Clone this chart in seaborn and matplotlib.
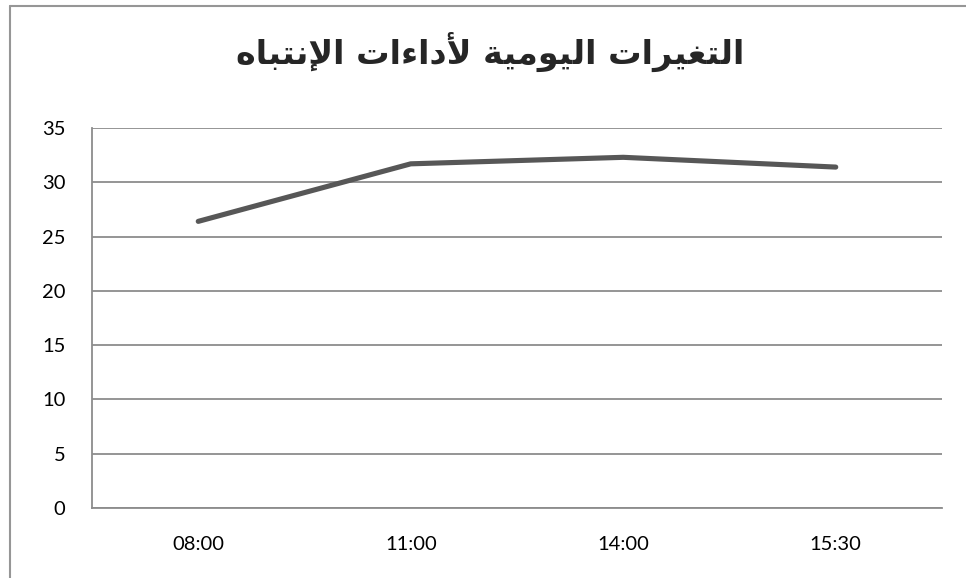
import matplotlib
matplotlib.use("Agg")
import matplotlib.pyplot as plt
import pandas as pd
import seaborn as sns
from matplotlib.lines import Line2D

# data
times = ["08:00", "11:00", "14:00", "15:30"]
scores = [26.4, 31.7, 32.3, 31.4]
y_ticks = [0, 5, 10, 15, 20, 25, 30, 35]
title = "التغيرات اليومية لأداءات الإنتباه"

# minimal Arabic shaping (isolated, final, initial, medial)
FORMS = {
    "ء": ("\uFE80", None, None, None),
    "أ": ("\uFE83", "\uFE84", None, None),
    "إ": ("\uFE87", "\uFE88", None, None),
    "ا": ("\uFE8D", "\uFE8E", None, None),
    "ب": ("\uFE8F", "\uFE90", "\uFE91", "\uFE92"),
    "ة": ("\uFE93", "\uFE94", None, None),
    "ت": ("\uFE95", "\uFE96", "\uFE97", "\uFE98"),
    "د": ("\uFEA9", "\uFEAA", None, None),
    "ر": ("\uFEAD", "\uFEAE", None, None),
    "غ": ("\uFECD", "\uFECE", "\uFECF", "\uFED0"),
    "ل": ("\uFEDD", "\uFEDE", "\uFEDF", "\uFEE0"),
    "م": ("\uFEE1", "\uFEE2", "\uFEE3", "\uFEE4"),
    "ن": ("\uFEE5", "\uFEE6", "\uFEE7", "\uFEE8"),
    "ه": ("\uFEE9", "\uFEEA", "\uFEEB", "\uFEEC"),
    "و": ("\uFEED", "\uFEEE", None, None),
    "ي": ("\uFEF1", "\uFEF2", "\uFEF3", "\uFEF4"),
}
LAM_ALEF = {"أ": ("\uFEF7", "\uFEF8"), "إ": ("\uFEF9", "\uFEFA"), "ا": ("\uFEFB", "\uFEFC")}


def shape_arabic(text):
    chars = list(text)
    # merge lam + alef into one unit
    units = []
    i = 0
    while i < len(chars):
        if chars[i] == "ل" and i + 1 < len(chars) and chars[i + 1] in LAM_ALEF:
            units.append(("LA", chars[i + 1]))
            i += 2
        else:
            units.append(("C", chars[i]))
            i += 1

    def joins_next(u):
        if u[0] == "LA":
            return False
        f = FORMS.get(u[1])
        return f is not None and f[2] is not None

    def joins_prev(u):
        if u[0] == "LA":
            return True
        f = FORMS.get(u[1])
        return f is not None and f[1] is not None

    out = []
    for k, u in enumerate(units):
        prev_j = k > 0 and joins_next(units[k - 1]) and joins_prev(u)
        nxt = units[k + 1] if k + 1 < len(units) else None
        next_j = nxt is not None and joins_next(u) and joins_prev(nxt)
        if u[0] == "LA":
            iso, fin = LAM_ALEF[u[1]]
            out.append(fin if prev_j else iso)
            continue
        f = FORMS.get(u[1])
        if f is None:
            out.append(u[1])
            continue
        if prev_j and next_j:
            out.append(f[3])
        elif prev_j:
            out.append(f[1])
        elif next_j:
            out.append(f[2])
        else:
            out.append(f[0])
    return "".join(reversed(out))


df = pd.DataFrame({"time": times, "score": scores})

sns.set_theme(style="white")
plt.rcParams["font.family"] = ["Lato", "DejaVu Sans"]

fig = plt.figure(figsize=(9.66, 5.78), dpi=100)
ax = fig.add_axes([92 / 966, 1 - 508 / 578, 850 / 966, 380 / 578])

sns.lineplot(data=df, x="time", y="score", sort=False, ax=ax,
             color="#575757", linewidth=3.7, solid_capstyle="round")

ax.set_xlim(-0.5, len(times) - 0.5)
ax.set_ylim(0, 35)
ax.set_yticks(y_ticks)
ax.yaxis.grid(True, color="#8c8c8c", linewidth=1.3)
ax.xaxis.grid(False)
for side in ["top", "right"]:
    ax.spines[side].set_visible(False)
ax.spines["left"].set_color("#8c8c8c")
ax.spines["bottom"].set_color("#8c8c8c")
ax.spines["left"].set_linewidth(1.3)
ax.spines["bottom"].set_linewidth(1.3)
ax.tick_params(axis="both", length=0, labelsize=14.5, colors="black")
ax.tick_params(axis="y", pad=19)
ax.tick_params(axis="x", pad=20)
ax.set_xlabel("")
ax.set_ylabel("")

fig.text(490 / 966, 1 - 52 / 578, shape_arabic(title), ha="center", va="center",
         fontsize=24, fontweight="bold", family=["DejaVu Sans"])

# chart frame (left and top edges visible)
fig.add_artist(Line2D([10 / 966, 10 / 966], [0, 1 - 6 / 578], color="#969696",
                      linewidth=1.5, transform=fig.transFigure))
fig.add_artist(Line2D([10 / 966, 1], [1 - 6 / 578, 1 - 6 / 578], color="#969696",
                      linewidth=1.5, transform=fig.transFigure))

fig.savefig("out.png", dpi=100)
